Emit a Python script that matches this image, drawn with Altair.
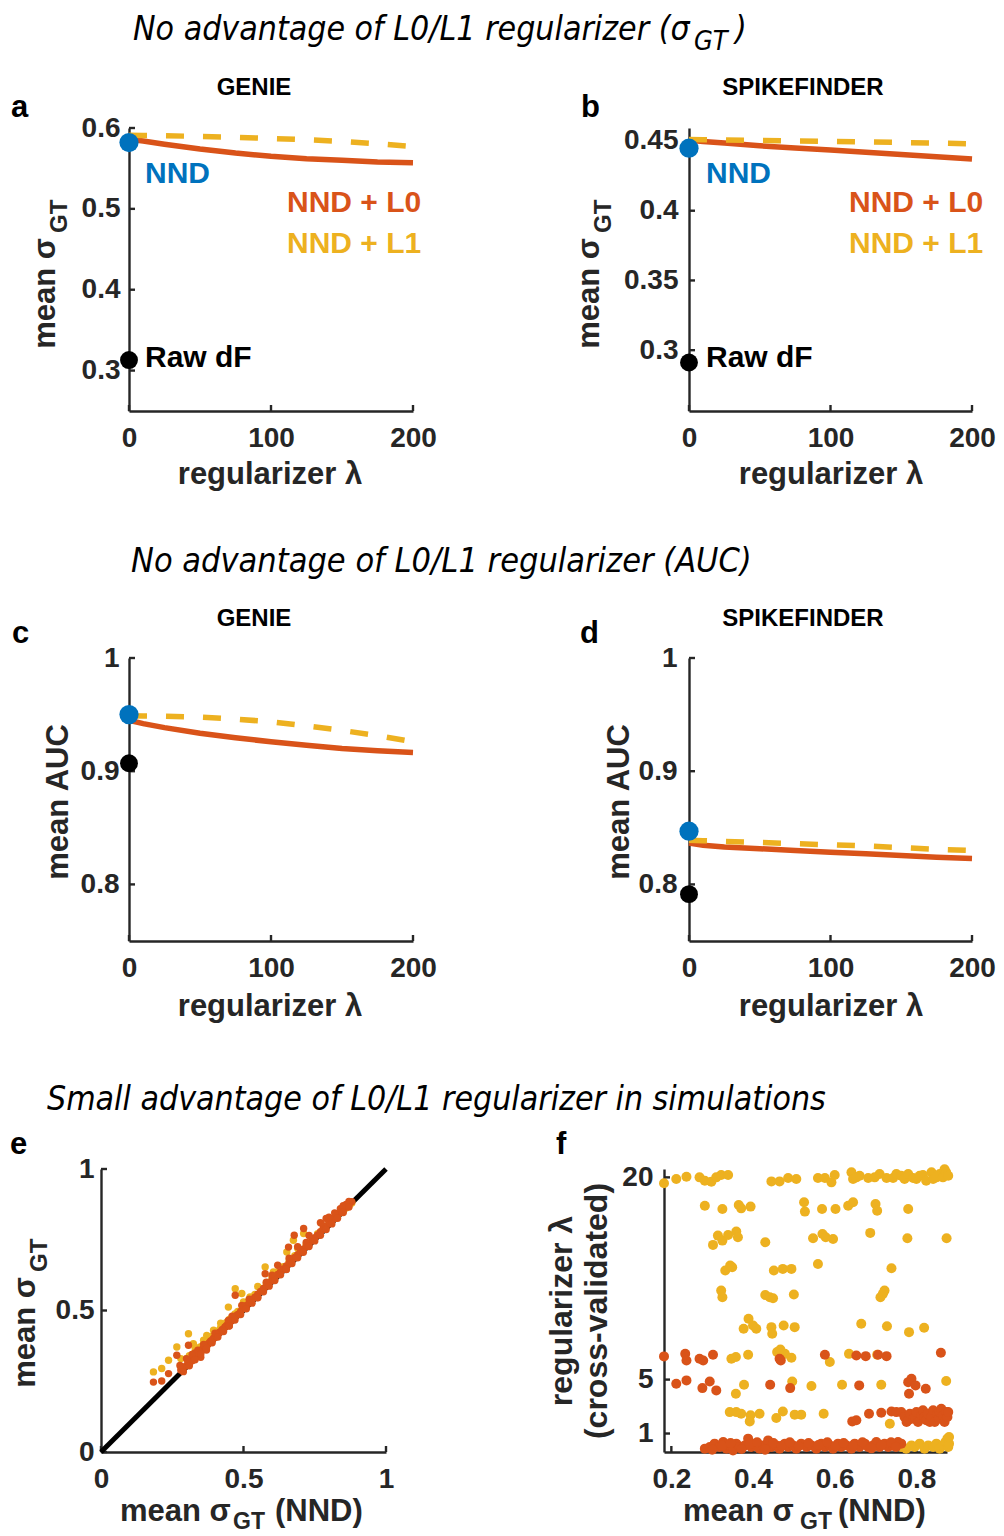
import altair as alt
import pandas as pd

FONT = "Liberation Sans"
TFONT = "Liberation Sans Narrow, Arial Narrow, DejaVu Sans Condensed, Liberation Sans"
AX = "#262626"
ORANGE = "#D95319"
YELLOW = "#EDB120"
BLUE = "#0072BD"
BLACK = "#000000"

# ---------------- data ----------------
LAM = [0, 10, 25, 50, 75, 100, 125, 150, 175, 200]
A_L0 = [0.586, 0.584, 0.580, 0.574, 0.569, 0.565, 0.562, 0.560, 0.558, 0.557]
A_L1 = [0.591, 0.5908, 0.5905, 0.5895, 0.5885, 0.5870, 0.5855, 0.5835, 0.5805, 0.5770]
B_L0 = [0.4505, 0.4497, 0.4485, 0.4465, 0.4450, 0.4435, 0.4420, 0.4403, 0.4387, 0.4370]
B_L1 = [0.4510, 0.4509, 0.4507, 0.4503, 0.4500, 0.4497, 0.4493, 0.4489, 0.4485, 0.4480]
C_L0 = [0.945, 0.942, 0.9385, 0.9335, 0.9295, 0.926, 0.923, 0.920, 0.918, 0.9165]
C_L1 = [0.949, 0.9488, 0.9485, 0.9477, 0.946, 0.9437, 0.940, 0.936, 0.9315, 0.926]
D_L0 = [0.8365, 0.8345, 0.833, 0.8315, 0.830, 0.8285, 0.827, 0.8255, 0.824, 0.8228]
D_L1 = [0.8390, 0.8386, 0.838, 0.837, 0.836, 0.835, 0.834, 0.8325, 0.831, 0.830]
NND = {"a": 0.582, "b": 0.4448, "c": 0.950, "d": 0.847}
RAW = {"a": 0.313, "b": 0.2912, "c": 0.907, "d": 0.7914}

E_L0_X = [0.280, 0.290, 0.300, 0.305, 0.310, 0.315, 0.320, 0.325, 0.330, 0.335, 0.340, 0.345, 0.350, 0.355,
          0.360, 0.365, 0.370, 0.375, 0.380, 0.385, 0.390, 0.395, 0.400, 0.405, 0.410, 0.415, 0.420, 0.425,
          0.430, 0.435, 0.440, 0.445, 0.450, 0.455, 0.460, 0.465, 0.470, 0.475, 0.480, 0.490, 0.500, 0.510,
          0.520, 0.530, 0.540, 0.550, 0.560, 0.570, 0.580, 0.590, 0.600, 0.610, 0.620, 0.630, 0.640, 0.650,
          0.660, 0.670, 0.680, 0.690, 0.700, 0.710, 0.720, 0.730, 0.740, 0.750, 0.760, 0.770, 0.780, 0.790,
          0.800, 0.810, 0.820, 0.830, 0.840, 0.850, 0.860, 0.870, 0.880,
          0.330, 0.360, 0.400, 0.460, 0.520, 0.580, 0.660, 0.720, 0.780, 0.770, 0.790, 0.800, 0.820, 0.840,
          0.860, 0.850, 0.870, 0.300, 0.320, 0.340, 0.350, 0.370, 0.450, 0.550, 0.650,
          0.184, 0.213, 0.237, 0.266, 0.277, 0.307, 0.447, 0.471, 0.494, 0.576, 0.658, 0.678, 0.711, 0.289,
          0.620, 0.690, 0.730, 0.600,
          0.310, 0.330, 0.350, 0.370, 0.390, 0.410, 0.430, 0.450, 0.470, 0.490, 0.510, 0.530, 0.550, 0.570,
          0.590, 0.610, 0.630, 0.650, 0.670, 0.690, 0.710, 0.730, 0.750, 0.770, 0.790, 0.810, 0.830, 0.850,
          0.870]
E_L0_Y = [0.290, 0.300, 0.305, 0.318, 0.315, 0.325, 0.322, 0.335, 0.333, 0.342, 0.345, 0.350, 0.352, 0.362,
          0.365, 0.370, 0.377, 0.380, 0.386, 0.392, 0.395, 0.402, 0.405, 0.412, 0.415, 0.422, 0.425, 0.432,
          0.435, 0.442, 0.446, 0.452, 0.456, 0.462, 0.466, 0.472, 0.476, 0.482, 0.486, 0.497, 0.507, 0.518,
          0.527, 0.538, 0.547, 0.558, 0.567, 0.578, 0.587, 0.598, 0.607, 0.617, 0.627, 0.637, 0.647, 0.657,
          0.667, 0.677, 0.687, 0.697, 0.707, 0.717, 0.727, 0.737, 0.747, 0.757, 0.767, 0.778, 0.788, 0.797,
          0.807, 0.817, 0.827, 0.837, 0.846, 0.856, 0.866, 0.875, 0.884,
          0.350, 0.380, 0.420, 0.480, 0.540, 0.600, 0.685, 0.740, 0.800, 0.810, 0.825, 0.830, 0.845, 0.860,
          0.875, 0.870, 0.885, 0.330, 0.345, 0.360, 0.335, 0.360, 0.445, 0.545, 0.645,
          0.247, 0.251, 0.277, 0.342, 0.306, 0.377, 0.465, 0.554, 0.518, 0.630, 0.724, 0.766, 0.790, 0.284,
          0.660, 0.725, 0.765, 0.625,
          0.305, 0.326, 0.346, 0.366, 0.386, 0.406, 0.426, 0.446, 0.466, 0.486, 0.506, 0.526, 0.546, 0.566,
          0.586, 0.606, 0.626, 0.646, 0.666, 0.686, 0.706, 0.726, 0.746, 0.766, 0.786, 0.806, 0.826, 0.846,
          0.866]
E_L1_X = [0.300, 0.310, 0.320, 0.330, 0.340, 0.350, 0.360, 0.370, 0.380, 0.390, 0.400, 0.410, 0.420, 0.430,
          0.440, 0.450, 0.460, 0.470, 0.480, 0.500, 0.520, 0.540, 0.560, 0.580, 0.600, 0.620, 0.640, 0.660,
          0.680, 0.700, 0.720, 0.740, 0.760, 0.780, 0.800, 0.820, 0.840, 0.860, 0.880, 0.850, 0.870,
          0.184, 0.213, 0.237, 0.266, 0.307, 0.324, 0.371, 0.395, 0.430, 0.447, 0.471, 0.494, 0.523, 0.576,
          0.605, 0.652, 0.675, 0.711, 0.280, 0.330, 0.360, 0.420, 0.500, 0.550, 0.690]
E_L1_Y = [0.330, 0.340, 0.345, 0.355, 0.362, 0.372, 0.380, 0.392, 0.400, 0.410, 0.420, 0.428, 0.440, 0.448,
          0.458, 0.468, 0.477, 0.488, 0.497, 0.517, 0.537, 0.557, 0.577, 0.596, 0.616, 0.636, 0.655, 0.674,
          0.694, 0.713, 0.733, 0.752, 0.771, 0.790, 0.808, 0.826, 0.845, 0.862, 0.880, 0.852, 0.870,
          0.283, 0.295, 0.324, 0.371, 0.418, 0.383, 0.412, 0.430, 0.448, 0.512, 0.577, 0.560, 0.548, 0.654,
          0.636, 0.707, 0.748, 0.772, 0.330, 0.370, 0.395, 0.455, 0.530, 0.585, 0.720]

F_L1_X = [0.182, 0.212, 0.237, 0.269, 0.282, 0.298, 0.310, 0.322, 0.339, 0.445, 0.465, 0.486, 0.506, 0.559,
          0.576, 0.592, 0.600, 0.641, 0.645, 0.653, 0.661, 0.682, 0.698, 0.710, 0.727, 0.743, 0.751, 0.763,
          0.771, 0.780, 0.792, 0.800, 0.808, 0.816, 0.824, 0.837, 0.841, 0.849, 0.857, 0.865, 0.869, 0.873,
          0.878,
          0.282, 0.325, 0.365, 0.371, 0.394, 0.525, 0.527, 0.569, 0.602, 0.633, 0.645, 0.700, 0.704, 0.780,
          0.302, 0.314, 0.325, 0.339, 0.359, 0.363, 0.430, 0.547, 0.570, 0.578, 0.596, 0.687, 0.778, 0.874,
          0.332, 0.344, 0.349, 0.451, 0.473, 0.494, 0.559, 0.739,
          0.322, 0.325, 0.430, 0.441, 0.449, 0.500, 0.712, 0.718, 0.722,
          0.377, 0.389, 0.400, 0.408, 0.445, 0.447, 0.475, 0.502, 0.665, 0.728, 0.782, 0.819,
          0.347, 0.358, 0.388, 0.459, 0.467, 0.478, 0.494, 0.588, 0.635, 0.704,
          0.358, 0.378, 0.496, 0.543, 0.618, 0.714, 0.873,
          0.343, 0.359, 0.371, 0.394, 0.392, 0.416, 0.457, 0.473, 0.502, 0.518, 0.573, 0.735,
          0.763, 0.775, 0.788, 0.796, 0.808, 0.820, 0.829, 0.841, 0.849, 0.857, 0.865, 0.871, 0.876, 0.878,
          0.880, 0.880, 0.700, 0.740]
F_L1_Y = [19.56, 19.88, 20.05, 20.00, 19.75, 19.68, 20.00, 20.17, 20.17, 19.70, 19.70, 19.95, 19.88, 19.95,
          19.95, 19.63, 20.17, 20.37, 19.88, 20.00, 20.12, 19.95, 20.00, 20.25, 19.95, 19.95, 20.25, 20.12,
          19.88, 20.25, 19.95, 19.88, 20.12, 20.17, 19.75, 20.37, 19.88, 20.00, 20.25, 20.00, 20.60, 20.37,
          20.12,
          17.90, 17.65, 17.95, 17.70, 17.83, 18.15, 17.46, 17.65, 17.65, 17.90, 18.15, 18.02, 17.53, 17.65,
          14.99, 15.68, 15.31, 15.73, 15.98, 15.56, 15.19, 15.48, 15.80, 15.56, 15.43, 15.88, 15.48, 15.48,
          13.09, 13.46, 13.33, 13.09, 13.21, 13.21, 13.58, 13.26,
          11.60, 11.11, 11.28, 11.11, 11.04, 11.31, 11.11, 11.36, 11.60,
          8.77, 9.51, 9.01, 8.77, 8.89, 8.40, 9.01, 8.89, 9.14, 8.96, 8.52, 8.84,
          6.54, 6.67, 6.84, 7.04, 7.23, 6.91, 6.62, 6.30, 6.91, 6.84,
          3.95, 4.62, 4.86, 4.52, 4.62, 4.62, 4.89,
          2.59, 2.59, 2.47, 2.35, 1.90, 2.47, 2.15, 2.64, 2.40, 2.40, 2.47, 1.73,
          0.00, -0.12, 0.12, 0.00, 0.25, -0.12, 0.12, 0.00, 0.25, -0.12, 0.12, 0.37, 0.62, 0.00,
          0.25, 0.74, 0.10, 0.25]
F_L0_X = [0.182, 0.234, 0.237, 0.269, 0.278, 0.302, 0.465, 0.468, 0.576, 0.653, 0.676, 0.706, 0.727, 0.860,
          0.212, 0.237, 0.276, 0.294, 0.310, 0.442, 0.491, 0.660, 0.780, 0.788, 0.782, 0.798, 0.823,
          0.643, 0.653, 0.684, 0.714, 0.739, 0.751, 0.763, 0.771, 0.776, 0.780, 0.784, 0.792, 0.796, 0.800,
          0.804, 0.812, 0.816, 0.820, 0.824, 0.828, 0.833, 0.837, 0.841, 0.845, 0.851, 0.855, 0.857, 0.861,
          0.865, 0.869, 0.873, 0.876, 0.878,
          0.282, 0.294, 0.306, 0.318, 0.327, 0.335, 0.343, 0.351, 0.359, 0.367, 0.380, 0.388, 0.396, 0.404,
          0.416, 0.425, 0.437, 0.445, 0.457, 0.465, 0.478, 0.486, 0.498, 0.506, 0.518, 0.531, 0.543, 0.555,
          0.567, 0.576, 0.588, 0.596, 0.608, 0.616, 0.629, 0.641, 0.649, 0.661, 0.674, 0.682, 0.694, 0.702,
          0.710, 0.722, 0.731, 0.743, 0.755, 0.763,
          0.300, 0.325, 0.345, 0.372, 0.392, 0.410, 0.430, 0.450, 0.470, 0.490, 0.512, 0.536, 0.560, 0.582,
          0.602, 0.622, 0.645, 0.668, 0.690, 0.715, 0.738, 0.750]
F_L0_Y = [6.72, 6.91, 6.42, 6.54, 6.42, 6.84, 6.54, 6.42, 6.84, 6.79, 6.74, 6.84, 6.74, 6.99,
          4.69, 4.94, 4.37, 4.86, 4.20, 4.62, 4.37, 4.57, 4.81, 5.06, 3.95, 4.57, 4.32,
          1.90, 1.98, 2.47, 2.54, 2.64, 2.59, 2.59, 2.22, 1.85, 1.98, 2.47, 2.10, 2.22, 2.59,
          1.85, 2.35, 2.72, 2.22, 1.98, 2.47, 1.85, 2.22, 2.72, 1.85, 2.47, 2.10, 2.59, 2.84,
          2.35, 1.85, 2.59, 2.22, 2.59,
          -0.12, 0.00, 0.25, 0.00, 0.37, -0.12, 0.12, -0.25, 0.25, 0.00, 0.12, 0.62, 0.00, 0.25,
          -0.12, 0.12, 0.49, 0.00, 0.12, -0.12, 0.25, 0.00, 0.12, -0.12, 0.25, 0.00, 0.12, -0.12,
          0.25, 0.00, 0.12, -0.12, 0.25, 0.00, 0.12, -0.12, 0.25, 0.00, 0.25, 0.00, 0.12, 0.37,
          0.00, 0.25, 0.00, 0.12, 0.37, 0.25,
          -0.20, 0.10, 0.30, -0.15, 0.20, 0.35, -0.20, 0.30, 0.10, 0.35, 0.05, 0.30, 0.15, 0.35,
          0.05, 0.30, 0.10, 0.35, -0.10, 0.15, 0.35, 0.00]

ONE = pd.DataFrame({"k": [0]})


# ---------------- helpers ----------------
def txt(s, x, y, size, color=BLACK, align="left", angle=0, weight="bold", style="normal", font=FONT):
    return alt.Chart(ONE).mark_text(
        text=s, font=font, fontSize=size, fontWeight=weight, fontStyle=style,
        align=align, baseline="alphabetic", angle=angle, color=color
    ).encode(x=alt.value(x), y=alt.value(y))


def anchor(x1, x2, y1, y2):
    return alt.Chart(ONE).mark_rect(opacity=0).encode(
        x=alt.value(x1), x2=alt.value(x2), y=alt.value(y1), y2=alt.value(y2))


def spacer():
    return anchor(0, 1, 0, 1).properties(width=1, height=1)


def axes(xdom, ydom, xvals, yvals, ypad):
    sx = alt.Scale(domain=xdom, nice=False, zero=False)
    sy = alt.Scale(domain=ydom, nice=False, zero=False)
    common = dict(title=None, format="~r", ticks=False, tickSize=0, grid=False,
                  domainColor=AX, domainWidth=2.4, labelFont=FONT, labelFontSize=28,
                  labelFontWeight="bold", labelColor=AX, labelFlush=False, labelOverlap=False)
    ax = alt.Axis(values=xvals, labelPadding=35, labelBaseline="alphabetic", **common)
    ay = alt.Axis(values=yvals, labelPadding=ypad, labelBaseline="middle", labelAlign="right", **common)
    return sx, sy, ax, ay


def tick_layers(sx, sy, ax, ay, xvals, yvals, h):
    xt = alt.Chart(pd.DataFrame({"x": xvals})).mark_rule(color=AX, strokeWidth=2.4).encode(
        x=alt.X("x:Q", scale=sx, axis=ax), y=alt.value(h), y2=alt.value(h - 6))
    yt = alt.Chart(pd.DataFrame({"y": yvals})).mark_rule(color=AX, strokeWidth=2.4).encode(
        y=alt.Y("y:Q", scale=sy, axis=ay), x=alt.value(0), x2=alt.value(6))
    return [xt, yt]


def line_panel(key, l0, l1, ydom, yvals, ypad, texts, box, w):
    h = 283
    xvals = [0, 100, 200]
    sx, sy, ax, ay = axes([0, 200], ydom, xvals, yvals, ypad)
    X = alt.X("x:Q", scale=sx, axis=ax)
    Y = alt.Y("y:Q", scale=sy, axis=ay)
    d0 = pd.DataFrame({"x": LAM, "y": l0})
    d1 = pd.DataFrame({"x": LAM, "y": l1})
    layers = [anchor(*box)]
    layers += tick_layers(sx, sy, ax, ay, xvals, yvals, h)
    layers.append(alt.Chart(d0).mark_line(color=ORANGE, strokeWidth=5.5).encode(x=X, y=Y))
    layers.append(alt.Chart(d1).mark_line(color=YELLOW, strokeWidth=5.5, strokeDash=[18, 19]).encode(x=X, y=Y))
    layers.append(alt.Chart(pd.DataFrame({"x": [0], "y": [NND[key]]})).mark_circle(
        size=370, color=BLUE, opacity=1).encode(x=X, y=Y))
    layers.append(alt.Chart(pd.DataFrame({"x": [0], "y": [RAW[key]]})).mark_circle(
        size=320, color=BLACK, opacity=1).encode(x=X, y=Y))
    layers += texts
    return alt.layer(*layers).properties(width=w, height=h)


def sigma_ytitle(bx, subx, yend, ysub):
    return [txt("mean σ", bx, yend, 31, color=AX, align="right", angle=270),
            txt("GT", subx, ysub, 24, color=AX, align="left", angle=270)]


def sigma_xtitle(x0, xsub, xnnd, base):
    return [txt("mean σ", x0, base, 31, color=AX),
            txt("GT", xsub, base + 8, 23, color=AX),
            txt("(NND)", xnnd, base, 31, color=AX)]


# ---------------- panels a-d ----------------
XT = "regularizer λ"
pa_txt = [txt("GENIE", 125, -33, 24, align="center"), txt("a", -118, -11, 31),
          txt("NND", 16, 55, 30, color=BLUE), txt("NND + L0", 158, 84, 30, color=ORANGE),
          txt("NND + L1", 158, 125, 30, color=YELLOW), txt("Raw dF", 16, 239, 30),
          txt(XT, 141, 356, 31, color=AX, align="center")] + sigma_ytitle(-74, -62, 110, 105)
A = line_panel("a", A_L0, A_L1, [0.25, 0.6], [0.3, 0.4, 0.5, 0.6], 9, pa_txt, (-120, 401, -71, 417), 284)

pb_txt = [txt("SPIKEFINDER", 114, -33, 24, align="center"), txt("b", -108, -11, 31),
          txt("NND", 17, 55, 30, color=BLUE), txt("NND + L0", 160, 84, 30, color=ORANGE),
          txt("NND + L1", 160, 125, 30, color=YELLOW), txt("Raw dF", 17, 239, 30),
          txt(XT, 142, 356, 31, color=AX, align="center")] + sigma_ytitle(-90, -78, 110, 105)
B = line_panel("b", B_L0, B_L1, [0.2564, 0.4593], [0.3, 0.35, 0.4, 0.45], 11, pb_txt, (-159, 307, -71, 417), 283)

pc_txt = [txt("GENIE", 125, -32.5, 24, align="center"), txt("c", -117, -15.5, 31),
          txt("mean AUC", -61, 144, 31, color=AX, align="center", angle=270),
          txt(XT, 141, 358, 31, color=AX, align="center")]
C = line_panel("c", C_L0, C_L1, [0.75, 1.0], [0.8, 0.9, 1.0], 10, pc_txt, (-120, 401, -68.5, 406.5), 284)

pd_txt = [txt("SPIKEFINDER", 114, -32.5, 24, align="center"), txt("d", -109, -15.5, 31),
          txt("mean AUC", -60, 144, 31, color=AX, align="center", angle=270),
          txt(XT, 142, 358, 31, color=AX, align="center")]
D = line_panel("d", D_L0, D_L1, [0.75, 1.0], [0.8, 0.9, 1.0], 12, pd_txt, (-159, 307, -68.5, 406.5), 283)

# ---------------- panel e ----------------
sx, sy, ax, ay = axes([0, 1], [0, 1], [0, 0.5, 1], [0, 0.5, 1], 7)
Xe = alt.X("x:Q", scale=sx, axis=ax)
Ye = alt.Y("y:Q", scale=sy, axis=ay)
e_layers = [anchor(-92, 429, -48.5, 363.5)]
e_layers += tick_layers(sx, sy, ax, ay, [0, 0.5, 1], [0, 0.5, 1], 283)
e_layers.append(alt.Chart(pd.DataFrame({"x": [0, 1], "y": [0, 1]})).mark_line(
    color=BLACK, strokeWidth=5).encode(x=Xe, y=Ye))
e_layers.append(alt.Chart(pd.DataFrame({"x": E_L1_X, "y": E_L1_Y})).mark_circle(
    size=55, color=YELLOW, opacity=1).encode(x=Xe, y=Ye))
e_layers.append(alt.Chart(pd.DataFrame({"x": E_L0_X, "y": E_L0_Y})).mark_circle(
    size=55, color=ORANGE, opacity=1).encode(x=Xe, y=Ye))
e_layers += [txt("e", -91, -15.5, 31)] + sigma_ytitle(-66, -54, 108, 103) + sigma_xtitle(19, 132, 174, 351.5)
E = alt.layer(*e_layers).properties(width=285, height=283)

# ---------------- panel f ----------------
fx = [0.2, 0.4, 0.6, 0.8]
fy = [1, 5, 20]
sx, sy, ax, ay = axes([0.182, 0.875], [-0.37, 20.62], fx, fy, 11)
Xf = alt.X("x:Q", scale=sx, axis=ax)
Yf = alt.Y("y:Q", scale=sy, axis=ay)
f_layers = [anchor(-134, 332, -48.5, 363.5)]
f_layers += tick_layers(sx, sy, ax, ay, fx, fy, 283)
f_layers.append(alt.Chart(pd.DataFrame({"x": F_L1_X, "y": F_L1_Y})).mark_circle(
    size=100, color=YELLOW, opacity=1).encode(x=Xf, y=Yf))
f_layers.append(alt.Chart(pd.DataFrame({"x": F_L0_X, "y": F_L0_Y})).mark_circle(
    size=100, color=ORANGE, opacity=1).encode(x=Xf, y=Yf))
f_layers += [txt("f", -108, -15.5, 31),
             txt("regularizer λ", -92, 142, 32, color=AX, align="center", angle=270),
             txt("(cross-validated)", -57, 142, 32, color=AX, align="center", angle=270)]
f_layers += sigma_xtitle(19, 136, 174, 351.5)
F = alt.layer(*f_layers).properties(width=283, height=283)

# ---------------- section titles ----------------
TKW = dict(weight="normal", style="italic", font=TFONT)
T1 = alt.layer(anchor(0, 988, 0, 49),
               txt("No advantage of L0/L1 regularizer (σ", 125, 32, 33.6, **TKW),
               txt("GT", 686, 41.5, 27, **TKW),
               txt(")", 727, 32, 33.6, **TKW)
               ).properties(width=988, height=49)
T2 = alt.layer(anchor(0, 988, 0, 40),
               txt("No advantage of L0/L1 regularizer (AUC)", 123, 23, 34, **TKW)
               ).properties(width=988, height=40)
T3 = alt.layer(anchor(0, 988, 0, 55),
               txt("Small advantage of L0/L1 regularizer in simulations", 39, 45, 33.6, **TKW)
               ).properties(width=988, height=55)

chart = alt.vconcat(
    T1, alt.hconcat(spacer(), A, B, spacing=0),
    T2, alt.hconcat(spacer(), C, D, spacing=0),
    T3, alt.hconcat(spacer(), E, F, spacing=0),
    spacing=0
).properties(padding=0).configure_view(strokeWidth=0)

chart.save("out.html", embed_options={"renderer": "svg", "actions": False})
